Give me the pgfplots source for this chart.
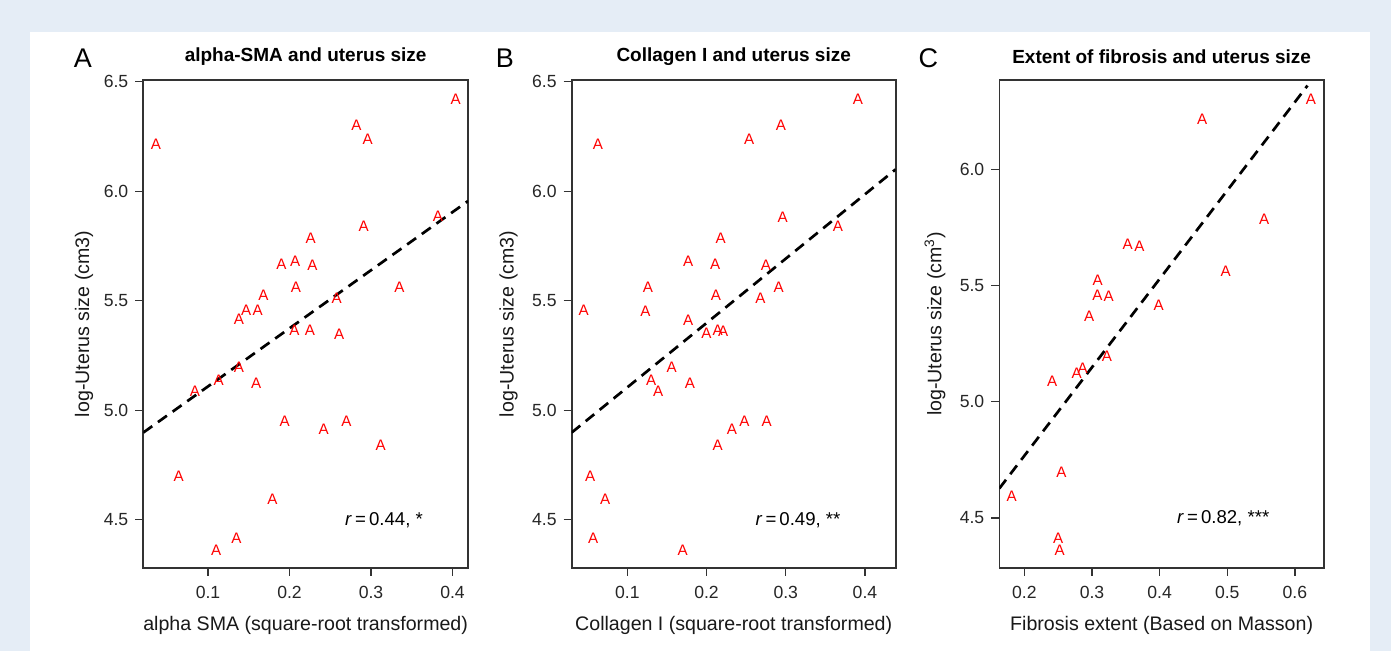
\documentclass[border=0pt]{standalone}
\usepackage{fontspec}
\setmainfont{Liberation Sans}
\usepackage{pgfplots}
\pgfplotsset{compat=1.18}
\definecolor{bgblue}{RGB}{229,237,246}
\definecolor{framegray}{RGB}{51,51,51}

\pgfplotsset{
  panel/.style={
    scale only axis, width=162.35pt, height=244pt, anchor=south west,
    axis line style={framegray, line width=0.8pt},
    tick style={framegray, line width=0.7pt},
    tick align=outside, major tick length=4pt,
    xtick pos=left, ytick pos=left,
    /pgf/number format/assume math mode=true,
    ticklabel style={font=\fontsize{8.8}{10}\selectfont, text=black!85},
    xticklabel style={yshift=-1.5pt, /pgf/number format/fixed, /pgf/number format/fixed zerofill, /pgf/number format/precision=1},
    yticklabel style={/pgf/number format/fixed, /pgf/number format/fixed zerofill, /pgf/number format/precision=1},
    every axis title shift=0pt,
    title style={at={(axis description cs:0.5,1.0477)}, anchor=center, font=\bfseries\fontsize{9.5}{11}\selectfont},
    xlabel style={at={(axis description cs:0.5,-0.1168)}, anchor=center, font=\fontsize{9.8}{11}\selectfont, text=black!90},
    ylabel style={anchor=center, font=\fontsize{9.8}{11}\selectfont, text=black!90},
  },
  letter/.style 2 args={extra description/.code={
    \node[font=\fontsize{13.5}{14}\selectfont] at (#1,1.045) {#2};}},
  pts/.style={only marks, red, mark=text, text mark={A}, text mark as node=true,
    text mark style={font=\fontsize{7.6}{8}\selectfont, text=red, inner sep=0pt}},
  fit/.style={black, line width=1.35pt, dash pattern=on 5.5pt off 3.5pt, mark=none},
}

\begin{document}
\begin{tikzpicture}
\fill[bgblue] (0,0) rectangle (695.5pt,325.5pt);
\fill[white] (15pt,0) rectangle (685pt,309.5pt);

% A
\begin{axis}[panel, at={(71.65pt,41.5pt)}, letter={-0.1857}{A},
  xmin=0.0206, xmax=0.419, ymin=4.2795, ymax=6.508,
  xtick={0.1,0.2,0.3,0.4}, ytick={4.5,5.0,5.5,6.0,6.5},
  title={alpha-SMA and uterus size},
  xlabel={alpha SMA (square-root transformed)},
  ylabel={log-Uterus size (cm3)},
  ylabel style={at={(axis description cs:-0.1826,0.5)}}]
\addplot[pts] table {
x y
0.036 6.215
0.404 6.421
0.282 6.303
0.296 6.239
0.382 5.884
0.291 5.842
0.226 5.785
0.190 5.668
0.207 5.679
0.228 5.663
0.208 5.563
0.335 5.563
0.258 5.511
0.168 5.523
0.147 5.457
0.161 5.458
0.138 5.416
0.206 5.363
0.225 5.363
0.261 5.348
0.138 5.196
0.113 5.138
0.084 5.088
0.159 5.123
0.194 4.951
0.242 4.915
0.270 4.951
0.312 4.838
0.064 4.697
0.179 4.595
0.135 4.414
0.110 4.362
};
\addplot[fit] coordinates {(0.0206,4.898) (0.419,5.955)};
\node[font=\fontsize{9.3}{10}\selectfont] at (axis cs:0.316,4.5) {\textit{r}\,=\,0.44, *};
\end{axis}

% B
\begin{axis}[panel, at={(285.85pt,41.5pt)}, width=162pt, letter={-0.206}{B},
  xmin=0.0298, xmax=0.4388, ymin=4.2795, ymax=6.508,
  xtick={0.1,0.2,0.3,0.4}, ytick={4.5,5.0,5.5,6.0,6.5},
  title={Collagen I and uterus size},
  xlabel={Collagen I (square-root transformed)},
  ylabel={log-Uterus size (cm3)},
  ylabel style={at={(axis description cs:-0.195,0.5)}}]
\addplot[pts] table {
x y
0.063 6.215
0.391 6.421
0.294 6.303
0.254 6.239
0.296 5.879
0.366 5.842
0.218 5.785
0.177 5.679
0.211 5.668
0.275 5.663
0.126 5.563
0.291 5.563
0.212 5.523
0.268 5.511
0.045 5.457
0.123 5.453
0.177 5.412
0.200 5.352
0.214 5.363
0.221 5.361
0.156 5.196
0.130 5.138
0.139 5.088
0.179 5.123
0.248 4.951
0.276 4.951
0.232 4.915
0.214 4.838
0.053 4.697
0.072 4.595
0.057 4.414
0.170 4.362
};
\addplot[fit] coordinates {(0.0298,4.898) (0.4388,6.100)};
\node[font=\fontsize{9.3}{10}\selectfont] at (axis cs:0.3155,4.5) {\textit{r}\,=\,0.49, **};
\end{axis}

% C
\begin{axis}[panel, at={(499.65pt,41.5pt)}, letter={-0.2187}{C},
  xmin=0.163, xmax=0.643, ymin=4.285, ymax=6.384,
  xtick={0.2,0.3,0.4,0.5,0.6}, ytick={4.5,5.0,5.5,6.0},
  title={Extent of fibrosis and uterus size},
  xlabel={Fibrosis extent (Based on Masson)},
  ylabel={log-Uterus size (cm\textsuperscript{3})},
  ylabel style={at={(axis description cs:-0.198,0.5)}}]
\addplot[pts] table {
x y
0.6235 6.302
0.463 6.216
0.5545 5.785
0.3527 5.677
0.370 5.669
0.4975 5.561
0.3084 5.524
0.308 5.458
0.3247 5.455
0.3985 5.413
0.296 5.367
0.322 5.197
0.2774 5.122
0.2863 5.144
0.241 5.089
0.255 4.695
0.1814 4.594
0.250 4.412
0.2523 4.362
};
\addplot[fit] coordinates {(0.163,4.627) (0.6186,6.360)};
\node[font=\fontsize{9.3}{10}\selectfont] at (axis cs:0.494,4.5) {\textit{r}\,=\,0.82, ***};
\end{axis}

\pgfresetboundingbox
\useasboundingbox (0,0) rectangle (695.5pt,325.5pt);
\end{tikzpicture}
\end{document}
